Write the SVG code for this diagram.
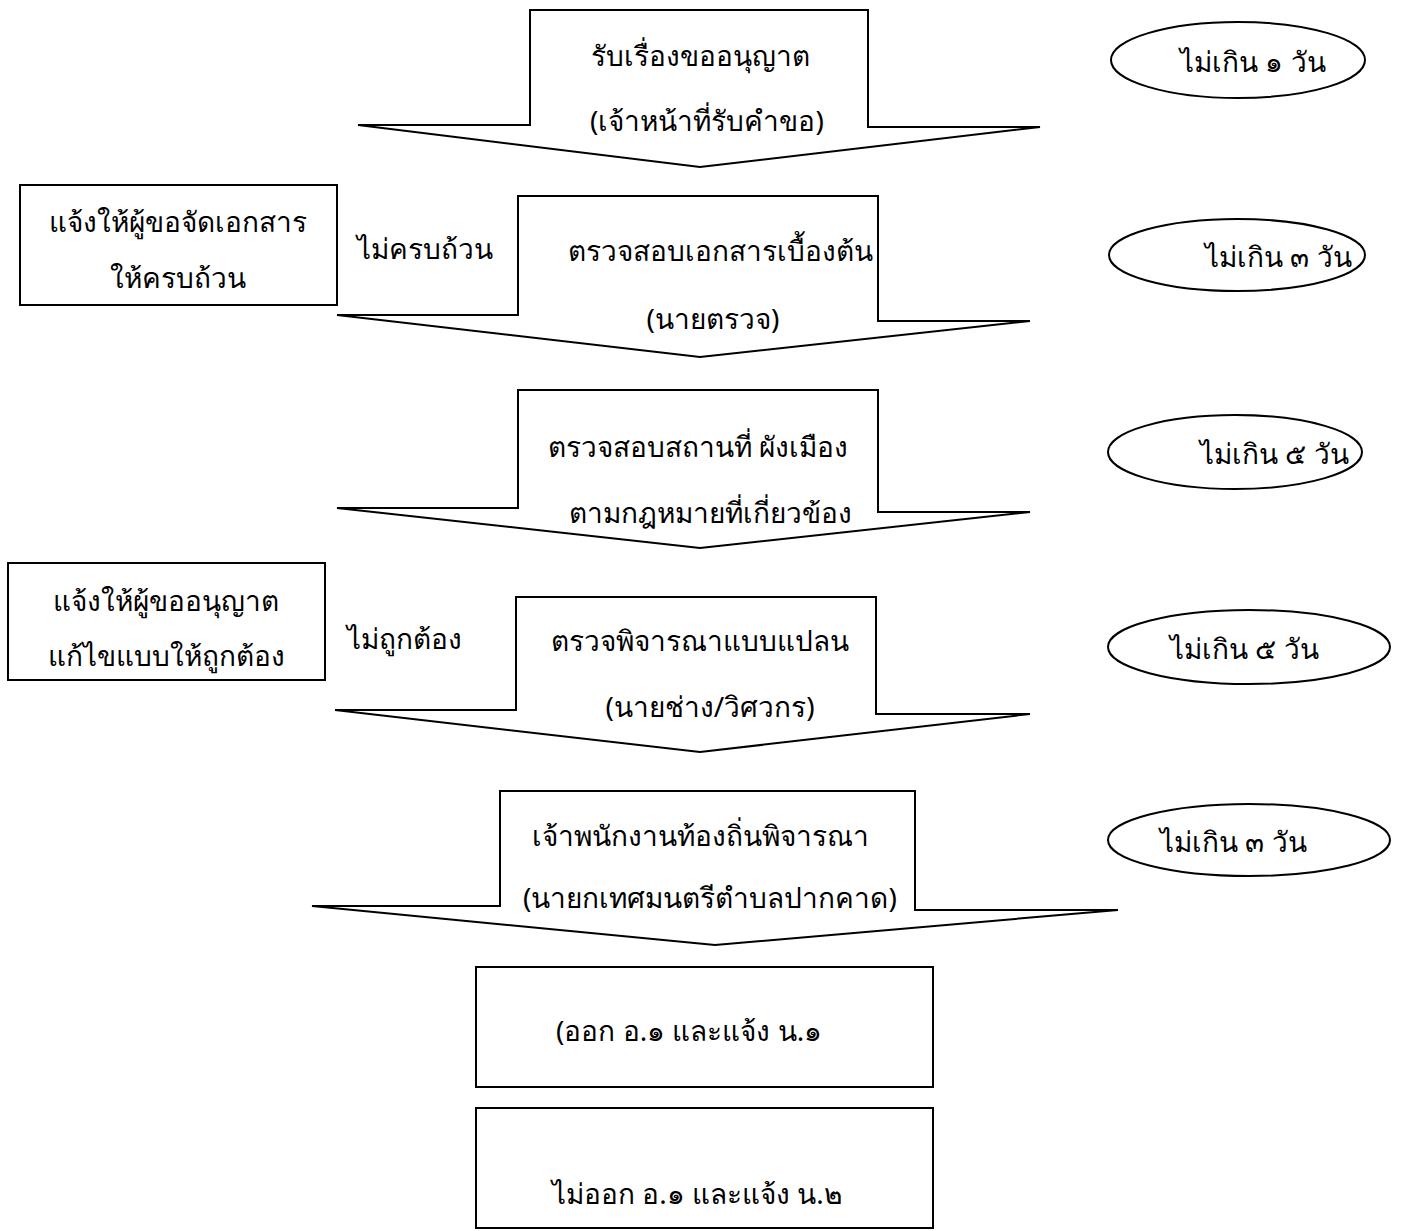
<svg xmlns="http://www.w3.org/2000/svg" width="1403" height="1231" viewBox="0 0 1403 1231">
<style>
.s{fill:#fff;stroke:#000;stroke-width:2}
.t{font-family:"Noto Sans","DejaVu Sans",sans-serif;font-size:28px;fill:#000}
.m{text-anchor:middle}
</style>
<rect width="1403" height="1231" fill="#fff"/>
<g id="connectors">
<g id="arrow1"><path class="s" d="M530,10 H868 V127 H1040 L700,167 L358,125 H530 Z"/>
<text class="t m" x="700" y="66">รับเรื่องขออนุญาต</text>
<text class="t m" x="707" y="131">(เจ้าหน้าที่รับคำขอ)</text></g>
<g id="arrow2"><path class="s" d="M518,196 H878 V321 H1030 L700,357 L337,315 H518 Z"/>
<text class="t" x="568" y="261">ตรวจสอบเอกสารเบื้องต้น</text>
<text class="t m" x="713" y="329">(นายตรวจ)</text></g>
<g id="arrow3"><path class="s" d="M518,390 H878 V512 H1030 L700,548 L337,508 H518 Z"/>
<text class="t m" x="698" y="457">ตรวจสอบสถานที่ ผังเมือง</text>
<text class="t m" x="710" y="523">ตามกฎหมายที่เกี่ยวข้อง</text></g>
<g id="arrow4"><path class="s" d="M516,597 H876 V714 H1030 L700,752 L335,710 H516 Z"/>
<text class="t m" x="700" y="651">ตรวจพิจารณาแบบแปลน</text>
<text class="t m" x="710" y="717">(นายช่าง/วิศวกร)</text></g>
<g id="arrow5"><path class="s" d="M500,791 H915 V910 H1118 L715,945 L312,906 H500 Z"/>
<text class="t m" x="700" y="846">เจ้าพนักงานท้องถิ่นพิจารณา</text>
<text class="t m" x="710" y="908">(นายกเทศมนตรีตำบลปากคาด)</text></g>
</g>
<g id="notify1"><rect class="s" x="20" y="185" width="317" height="120"/>
<text class="t m" x="178" y="232">แจ้งให้ผู้ขอจัดเอกสาร</text>
<text class="t m" x="178" y="288">ให้ครบถ้วน</text></g>
<text id="label1" class="t" x="357" y="259">ไม่ครบถ้วน</text>
<g id="notify2"><rect class="s" x="8" y="563" width="317" height="117"/>
<text class="t m" x="166" y="611">แจ้งให้ผู้ขออนุญาต</text>
<text class="t m" x="166" y="666">แก้ไขแบบให้ถูกต้อง</text></g>
<text id="label2" class="t" x="347" y="649">ไม่ถูกต้อง</text>
<g id="time1"><ellipse class="s" cx="1238" cy="60" rx="127" ry="38"/><text class="t" x="1180" y="72">ไม่เกิน ๑ วัน</text></g>
<g id="time2"><ellipse class="s" cx="1237" cy="255" rx="128" ry="36"/><text class="t" x="1205" y="267">ไม่เกิน ๓ วัน</text></g>
<g id="time3"><ellipse class="s" cx="1235" cy="452" rx="127" ry="37"/><text class="t" x="1200" y="464">ไม่เกิน ๕ วัน</text></g>
<g id="time4"><ellipse class="s" cx="1249" cy="647" rx="141" ry="37"/><text class="t" x="1170" y="659">ไม่เกิน ๕ วัน</text></g>
<g id="time5"><ellipse class="s" cx="1249" cy="840" rx="141" ry="36"/><text class="t" x="1160" y="852">ไม่เกิน ๓ วัน</text></g>
<g id="result1"><rect class="s" x="476" y="967" width="457" height="120"/>
<text class="t" x="556" y="1041">(ออก อ.๑ และแจ้ง น.๑</text></g>
<g id="result2"><rect class="s" x="476" y="1108" width="457" height="120"/>
<text class="t" x="552" y="1204">ไม่ออก อ.๑ และแจ้ง น.๒</text></g>
</svg>
